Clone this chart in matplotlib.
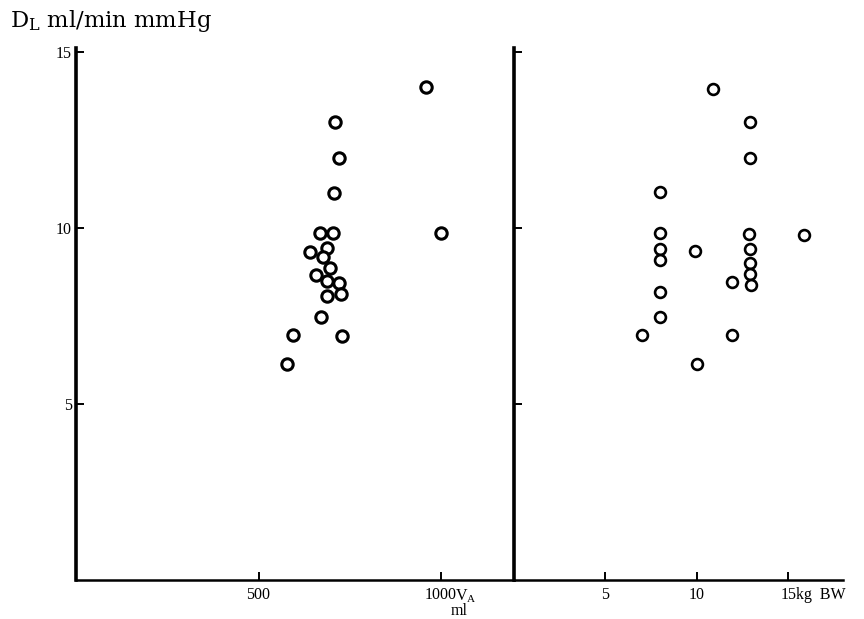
import matplotlib
matplotlib.use("Agg")
import matplotlib.pyplot as plt

# Diffusing capacity against alveolar volume (left) and body weight (right)
va_ml = [960, 710, 720, 708, 669, 703, 1000, 641, 689, 676,
         697, 658, 689, 721, 689, 725, 672, 594, 729, 579]
dl_va = [14.0, 13.0, 12.0, 11.0, 9.85, 9.85, 9.87, 9.32, 9.42, 9.18,
         8.87, 8.66, 8.50, 8.45, 8.07, 8.13, 7.46, 6.96, 6.93, 6.14]

bw_kg = [10.9, 12.9, 12.93, 8.0, 8.0, 8.0, 8.0, 9.93, 12.86, 15.85,
         12.9, 12.9, 12.9, 12.95, 11.9, 8.0, 8.0, 7.03, 11.9, 10.0]
dl_bw = [13.95, 13.0, 12.0, 11.02, 9.85, 9.40, 9.09, 9.36, 9.83, 9.80,
         9.40, 9.0, 8.68, 8.37, 8.47, 8.19, 7.47, 6.95, 6.95, 6.14]

y_ticks = [5, 10, 15]
y_ticklabels = ["5", "10", "15"]
va_ticks = [500, 1000]
va_ticklabels = ["500", "1000"]
bw_ticks = [5, 10, 15]
bw_ticklabels = ["5", "10", "15"]

plt.rcParams["font.family"] = ["Liberation Serif", "DejaVu Serif"]

fig = plt.figure(figsize=(8.64, 6.19), dpi=100)
W, H = 864, 619
x0, xm, x1 = 76, 514, 843
yb, yt = 580, 52
ax1 = fig.add_axes([x0 / W, (H - yb) / H, (xm - x0) / W, (yb - yt) / H])
ax2 = fig.add_axes([xm / W, (H - yb) / H, (x1 - xm) / W, (yb - yt) / H])

LABEL_SIZE = 11.5
XPAD = 5

for ax in (ax1, ax2):
    for side in ("top", "right"):
        ax.spines[side].set_visible(False)
    ax.spines["left"].set_linewidth(2.6)
    ax.spines["left"].set_bounds(0, 15.1)
    ax.spines["bottom"].set_linewidth(1.8)
    ax.set_ylim(0, 15)
    ax.set_yticks(y_ticks)
    ax.tick_params(axis="both", direction="in", length=6, width=1.4,
                   labelsize=LABEL_SIZE)
    ax.tick_params(axis="x", pad=XPAD)
    ax.tick_params(axis="y", pad=3)
    ax.patch.set_alpha(0)

ax1.set_yticklabels(y_ticklabels)
ax2.tick_params(axis="y", labelleft=False)

ax1.set_xlim(0, 1200)
ax1.set_xticks(va_ticks)
ax1.set_xticklabels(va_ticklabels)
ax2.set_xlim(0, 18)
ax2.set_xticks(bw_ticks)
ax2.set_xticklabels(bw_ticklabels)

ax1.plot(va_ml, dl_va, linestyle="none", marker="o", markersize=8.2,
         markerfacecolor="white", markeredgecolor="black",
         markeredgewidth=2.2, clip_on=False)
ax2.plot(bw_kg, dl_bw, linestyle="none", marker="o", markersize=7.8,
         markerfacecolor="white", markeredgecolor="black",
         markeredgewidth=1.9, clip_on=False)

# Unit annotations beside the tick labels
ax1.annotate(r"V$_\mathregular{A}$", xy=(1000, 0), xycoords=("data", "axes fraction"),
             xytext=(10, -XPAD), textcoords="offset points",
             fontsize=LABEL_SIZE, ha="left", va="top")
ax1.annotate("ml", xy=(1000, 0), xycoords=("data", "axes fraction"),
             xytext=(13, -22.5), textcoords="offset points",
             fontsize=LABEL_SIZE, ha="center", va="center")
ax2.annotate("kg  BW", xy=(15, 0), xycoords=("data", "axes fraction"),
             xytext=(6, -XPAD), textcoords="offset points",
             fontsize=LABEL_SIZE, ha="left", va="top")

fig.text(10 / W, 1 - 21 / H, r"D$_\mathregular{L}$ ml/min mmHg",
         family=["DejaVu Serif"], fontsize=16.3, ha="left", va="center")

fig.savefig("out.png", dpi=100)
